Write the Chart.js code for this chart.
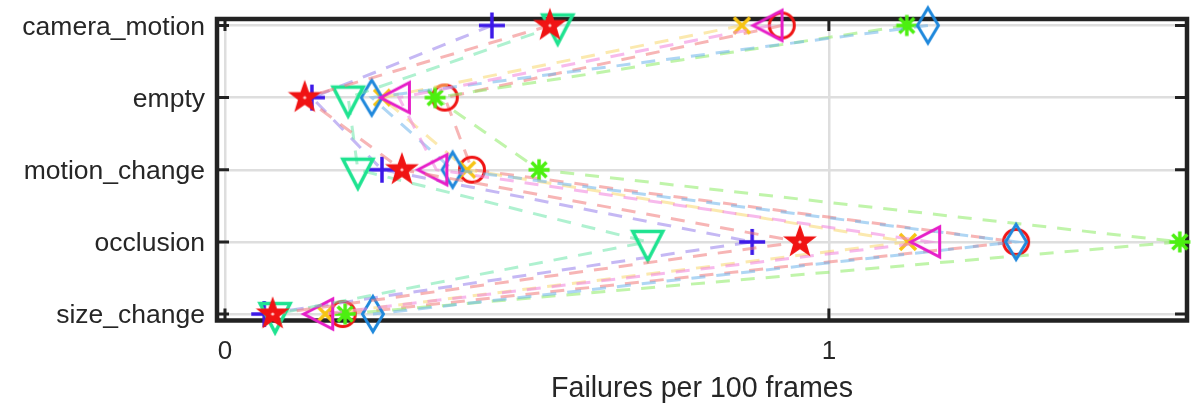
<!DOCTYPE html>
<html>
<head>
<meta charset="utf-8">
<script src="https://cdn.jsdelivr.net/npm/chart.js@4/dist/chart.umd.min.js"></script>
<style>
  html, body { margin: 0; padding: 0; background: #fff; }
  #wrap { width: 1204px; height: 410px; }
</style>
</head>
<body>
<div id="wrap"><canvas id="c" width="1204" height="410"></canvas></div>
<script>
// Attribute categories (top to bottom) and x tick values
const categories = ['camera_motion', 'empty', 'motion_change', 'occlusion', 'size_change'];
const xTicks = [0, 1];

// Failures per 100 frames, one value per category, for each tracker
const seriesCircle   = [0.922, 0.364, 0.409, 1.310, 0.195];
const seriesPlus     = [0.442, 0.144, 0.260, 0.873, 0.065];
const seriesAsterisk = [1.129, 0.348, 0.520, 1.581, 0.199];
const seriesCross    = [0.856, 0.260, 0.401, 1.131, 0.166];
const seriesDiamond  = [1.164, 0.243, 0.377, 1.310, 0.245];
const seriesLeftTri  = [0.905, 0.288, 0.350, 1.166, 0.161];
const seriesDownTri  = [0.551, 0.204, 0.220, 0.700, 0.083];
const seriesStar     = [0.538, 0.132, 0.293, 0.952, 0.079];

const FONT = "'Liberation Sans', Arial, Helvetica, sans-serif";

// Small offscreen canvases used as point markers
function marker(w, h, draw) {
  const c = document.createElement('canvas');
  c.width = w; c.height = h;
  const g = c.getContext('2d');
  g.translate(w / 2, h / 2);
  g.lineJoin = 'miter';
  g.lineCap = 'butt';
  draw(g);
  return c;
}
function poly(g, pts) {
  g.beginPath();
  g.moveTo(pts[0][0], pts[0][1]);
  for (let i = 1; i < pts.length; i++) g.lineTo(pts[i][0], pts[i][1]);
  g.closePath();
}

const mCircle = marker(40, 40, g => {
  g.strokeStyle = '#f01414'; g.lineWidth = 3;
  g.beginPath(); g.arc(0, 0, 12.5, 0, Math.PI * 2); g.stroke();
});
const mPlus = marker(40, 40, g => {
  g.strokeStyle = '#3c18e8'; g.lineWidth = 3.5;
  g.beginPath(); g.moveTo(-13, 0); g.lineTo(13, 0); g.moveTo(0, -13); g.lineTo(0, 13); g.stroke();
});
const mAsterisk = marker(40, 40, g => {
  g.strokeStyle = '#4cf010'; g.lineWidth = 3.5;
  g.beginPath();
  for (let k = 0; k < 4; k++) {
    const a = k * Math.PI / 4, r = 10.5;
    g.moveTo(-r * Math.cos(a), -r * Math.sin(a));
    g.lineTo(r * Math.cos(a), r * Math.sin(a));
  }
  g.stroke();
});
const mCross = marker(40, 40, g => {
  g.strokeStyle = '#f7c414'; g.lineWidth = 3.5;
  g.beginPath(); g.moveTo(-8, -8); g.lineTo(8, 8); g.moveTo(-8, 8); g.lineTo(8, -8); g.stroke();
});
const mDiamond = marker(40, 48, g => {
  g.strokeStyle = '#1f88dc'; g.lineWidth = 3;
  poly(g, [[0, -17.5], [10.5, 0], [0, 17.5], [-10.5, 0]]); g.stroke();
});
const mLeftTri = marker(48, 48, g => {
  g.strokeStyle = '#e61ec8'; g.lineWidth = 3;
  poly(g, [[-18.5, 0], [10.5, -15], [10.5, 15]]); g.stroke();
});
const mDownTri = marker(48, 48, g => {
  g.strokeStyle = '#1ee390'; g.lineWidth = 3.5;
  poly(g, [[-15, -10.5], [15, -10.5], [0, 18.5]]); g.stroke();
});
const mStar = marker(48, 48, g => {
  const pts = [];
  for (let k = 0; k < 10; k++) {
    const r = k % 2 === 0 ? 14 : 5.6;
    const a = -Math.PI / 2 + k * Math.PI / 5;
    pts.push([r * Math.cos(a), r * Math.sin(a)]);
  }
  g.fillStyle = '#f01414'; g.strokeStyle = '#f01414'; g.lineWidth = 2.5;
  poly(g, pts); g.fill(); g.stroke();
  g.fillStyle = '#ffc8c8';
  g.beginPath(); g.arc(0, 0, 1.6, 0, Math.PI * 2); g.fill();
});

// Series drawn in this order; later entries sit on top
const seriesList = [
  { values: seriesCircle,   marker: mCircle,   line: 'rgba(240,120,120,0.55)' },
  { values: seriesPlus,     marker: mPlus,     line: 'rgba(150,125,235,0.55)' },
  { values: seriesAsterisk, marker: mAsterisk, line: 'rgba(140,235,100,0.55)' },
  { values: seriesCross,    marker: mCross,    line: 'rgba(248,215,110,0.55)' },
  { values: seriesDiamond,  marker: mDiamond,  line: 'rgba(110,180,235,0.55)' },
  { values: seriesLeftTri,  marker: mLeftTri,  line: 'rgba(240,130,220,0.55)' },
  { values: seriesDownTri,  marker: mDownTri,  line: 'rgba(110,230,170,0.55)' },
  { values: seriesStar,     marker: mStar,     line: 'rgba(240,120,120,0.55)' }
];

const datasets = seriesList.map((s, i) => ({
  data: s.values.map((v, j) => ({ x: v, y: j + 1 })),
  showLine: true,
  borderColor: s.line,
  borderWidth: 3,
  borderDash: [14, 11],
  pointStyle: s.marker,
  pointRadius: 12,
  pointHoverRadius: 12,
  fill: false,
  tension: 0,
  clip: false,
  order: seriesList.length - 1 - i
}));

// Box around the plot area with inward tick marks, beneath the data
const frame = {
  id: 'frame',
  beforeDatasetsDraw(chart) {
    const { ctx, chartArea: a, scales: { x, y } } = chart;
    ctx.save();
    ctx.strokeStyle = '#222222';
    ctx.lineWidth = 3;
    ctx.beginPath();
    y.ticks.forEach(t => {
      const py = y.getPixelForValue(t.value);
      ctx.moveTo(a.left, py); ctx.lineTo(a.left + 12, py);
      ctx.moveTo(a.right, py); ctx.lineTo(a.right - 12, py);
    });
    x.ticks.forEach(t => {
      const px = x.getPixelForValue(t.value);
      ctx.moveTo(px, a.bottom); ctx.lineTo(px, a.bottom - 12);
      ctx.moveTo(px, a.top); ctx.lineTo(px, a.top + 12);
    });
    ctx.stroke();
    ctx.lineWidth = 4.5;
    ctx.strokeRect(a.left, a.top, a.right - a.left, a.bottom - a.top);
    ctx.restore();
  }
};

new Chart(document.getElementById('c'), {
  type: 'scatter',
  data: { datasets },
  plugins: [frame],
  options: {
    responsive: false,
    animation: false,
    devicePixelRatio: 1,
    layout: { padding: { top: 19, right: 17, left: 0, bottom: 0 } },
    plugins: { legend: { display: false }, tooltip: { enabled: false } },
    scales: {
      x: {
        type: 'linear',
        min: -0.0132,
        max: 1.593,
        afterBuildTicks: s => { s.ticks = xTicks.map(v => ({ value: v })); },
        afterFit: s => { s.height = 89.5; s.paddingLeft = 0; s.paddingRight = 0; },
        grid: { color: '#dedede', lineWidth: 2.5, drawTicks: false },
        border: { display: false },
        ticks: {
          autoSkip: false,
          padding: 16,
          color: '#262626',
          font: { family: FONT, size: 26 },
          callback: v => String(v)
        },
        title: {
          display: true,
          text: 'Failures per 100 frames',
          color: '#262626',
          font: { family: FONT, size: 28.6 },
          padding: { top: 0, bottom: 4 }
        }
      },
      y: {
        type: 'linear',
        reverse: true,
        min: 0.91,
        max: 5.09,
        afterBuildTicks: s => { s.ticks = categories.map((c, i) => ({ value: i + 1 })); },
        afterFit: s => { s.width = 217; s.paddingTop = 0; s.paddingBottom = 0; },
        grid: { color: '#dedede', lineWidth: 2.5, drawTicks: false },
        border: { display: false },
        ticks: {
          autoSkip: false,
          padding: 12,
          labelOffset: 2,
          color: '#262626',
          font: { family: FONT, size: 26.5 },
          callback: v => categories[Math.round(v) - 1]
        }
      }
    }
  }
});
</script>
</body>
</html>
